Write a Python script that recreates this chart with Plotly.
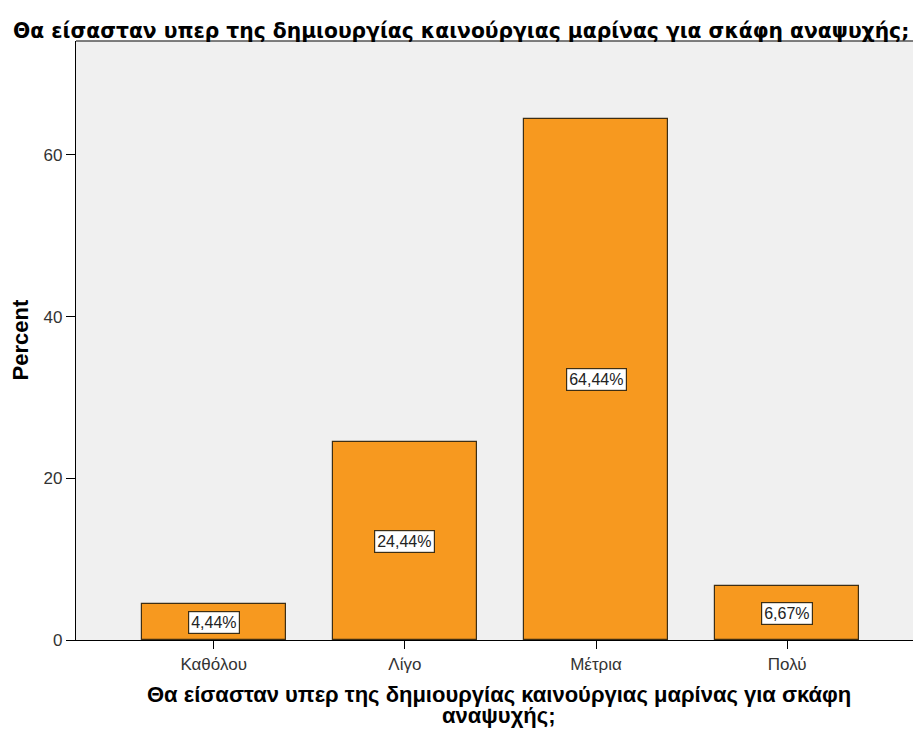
import plotly.graph_objects as go

categories = ["Καθόλου", "Λίγο", "Μέτρια", "Πολύ"]
percent = [4.44, 24.44, 64.44, 6.67]
labels = ["4,44%", "24,44%", "64,44%", "6,67%"]
title_text = "Θα είσασταν υπερ της δημιουργίας καινούργιας μαρίνας για σκάφη αναψυχής;"
xaxis_title_lines = ["Θα είσασταν υπερ της δημιουργίας καινούργιας μαρίνας για σκάφη", "αναψυχής;"]
y_title = "Percent"
y_ticks = [0, 20, 40, 60]

W, H = 913, 723
L, T, B = 68, 33, 91

fig = go.Figure()
fig.add_trace(go.Bar(
    x=list(range(len(categories))), y=percent,
    width=0.754,
    marker=dict(color="#F7991F", line=dict(color="#3d2e14", width=1.2)),
    hoverinfo="skip",
))

for i, (v, lab) in enumerate(zip(percent, labels)):
    fig.add_annotation(
        x=i, y=v / 2, text=lab, showarrow=False,
        font=dict(family="Liberation Sans, Arial", size=16, color="#222"),
        bgcolor="white", bordercolor="#3d2e14", borderwidth=1.2, borderpad=2,
    )

axis_font = dict(family="Liberation Sans, Arial", size=22, color="black")
for k, line in enumerate(xaxis_title_lines):
    fig.add_annotation(
        xref="paper", yref="paper", x=0.5, y=0, xanchor="center", yanchor="middle",
        yshift=-(54 + 21 * k), text="<b>" + line + "</b>", showarrow=False, font=axis_font,
        borderpad=0,
    )
fig.add_annotation(
    xref="paper", yref="paper", x=0, y=0.5, xanchor="center", yanchor="middle",
    xshift=-56, text="<b>" + y_title + "</b>", textangle=-90, showarrow=False, font=axis_font,
)

fig.update_layout(
    width=W, height=H,
    margin=dict(l=L, r=0, t=T, b=B, autoexpand=False),
    paper_bgcolor="white", plot_bgcolor="#F0F0F0",
    showlegend=False,
    title=dict(text="<b>" + title_text + "</b>", x=5 / W, xanchor="left",
               y=1 - 23 / H, yanchor="middle",
               font=dict(family="DejaVu Sans, Verdana", size=20.3, color="black")),
    bargap=0,
)
tick_font = dict(family="Liberation Sans, Arial", size=17, color="#333")
fig.update_xaxes(
    range=[-0.72, 3.70], tickvals=list(range(len(categories))), ticktext=categories,
    ticks="outside", ticklen=8, tickcolor="black", tickwidth=1.2,
    showline=True, linecolor="black", linewidth=1.2, showgrid=False, zeroline=False,
    tickfont=tick_font,
)
fig.update_yaxes(
    range=[0, 74.1], tickvals=y_ticks,
    ticks="outside", ticklen=9, tickcolor="black", tickwidth=1.2,
    showline=True, linecolor="black", linewidth=1.2, showgrid=False, zeroline=False,
    tickfont=tick_font,
)
fig.add_shape(type="line", xref="paper", yref="paper", x0=0, x1=1, y0=1, y1=1,
              line=dict(color="#555", width=1.5))

fig.write_html("out.html")
